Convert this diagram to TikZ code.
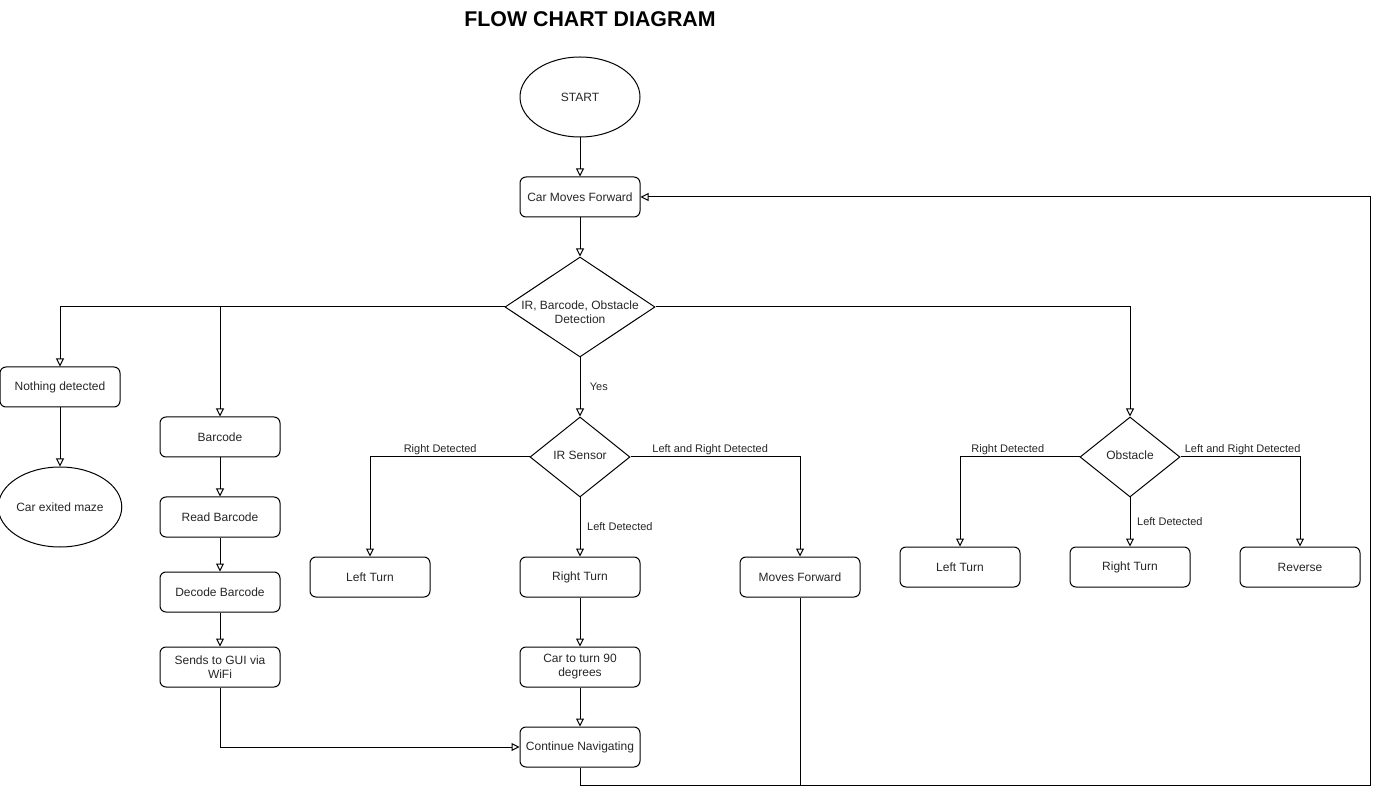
\documentclass[tikz,border=0pt]{standalone}
\usepackage{fontspec}
\setmainfont{Liberation Sans}
\usetikzlibrary{shapes.geometric,arrows.meta}
\begin{document}
\begin{tikzpicture}[x=0.75pt,y=-0.75pt,
  every node/.style={font=\fontsize{9}{10.5}\selectfont, text=black!85},
  box/.style={draw, line width=0.75pt, rounded corners=4.5pt, minimum width=90pt, minimum height=30pt, inner sep=0pt, align=center},
  oval/.style={draw, line width=0.75pt, ellipse, minimum width=90pt, minimum height=60pt, inner sep=0pt, align=center},
  decision/.style={draw, line width=0.75pt, diamond, aspect=1.5, inner sep=0pt, align=center},
  conn/.style={line width=0.75pt, -{Triangle[open,length=6pt,width=6pt]}},
  plain/.style={line width=0.75pt},
  elabel/.style={font=\fontsize{8.25}{10}\selectfont, text=black!85, inner sep=1pt}
]
\useasboundingbox (0,0) rectangle (1382,798);

\node[font=\bfseries\fontsize{16}{19}\selectfont, text=black] (title) at (590,19) {FLOW CHART DIAGRAM};

\node[oval] (start) at (580,97) {START};
\node[box] (cmf) at (580,197) {Car Moves Forward};
\node[decision, minimum width=112.5pt, minimum height=75pt] (det) at (580,307) {};
\node[align=center, inner sep=0pt] (dettext) at (580,312) {IR, Barcode, Obstacle\\Detection};

\node[box] (nothing) at (60,387) {Nothing detected};
\node[oval] (exited) at (60,507) {Car exited maze};

\node[box] (barcode) at (220,437) {Barcode};
\node[box] (read) at (220,517) {Read Barcode};
\node[box] (decode) at (220,592) {Decode Barcode};
\node[box] (sends) at (220,667) {Sends to GUI via\\WiFi};

\node[decision, minimum width=75pt, minimum height=60pt] (ir) at (580,457) {};
\node[inner sep=0pt] (irtext) at (580,455) {IR Sensor};
\node[box] (lt1) at (370,577) {Left Turn};
\node[box] (rt1) at (580,577) {Right Turn};
\node[box] (mf) at (800,577) {Moves Forward};
\node[box] (turn90) at (580,667) {Car to turn 90\\degrees};
\node[box] (cont) at (580,747) {Continue Navigating};

\node[decision, minimum width=75pt, minimum height=60pt] (obs) at (1130,457) {};
\node[inner sep=0pt] (obstext) at (1130,455) {Obstacle};
\node[box] (lt2) at (960,567) {Left Turn};
\node[box] (rt2) at (1130,567) {Right Turn};
\node[box] (rev) at (1300,567) {Reverse};

\coordinate (bl) at (580,785);
\coordinate (br) at (1370,785);
\coordinate (tr) at (1370,197);
\coordinate (mfb) at (800,785);

% main spine
\draw[conn] (start) -- (cmf);
\draw[conn] (cmf) -- (det);
\draw[conn] (det.west) -| (nothing.north);
\draw[conn] (det.west) -| (barcode.north);
\draw[conn] (det.east) -| (obs.north);
\draw[conn] (det.south) -- node[elabel, right, pos=0.5, xshift=6pt] {Yes} (ir.north);

% left
\draw[conn] (nothing) -- (exited);
\draw[conn] (barcode) -- (read);
\draw[conn] (read) -- (decode);
\draw[conn] (decode) -- (sends);
\draw[conn] (sends.south) |- (cont.west);

% IR branch
\draw[conn] (ir.west) -| node[elabel, above, pos=0.28] {Right Detected} (lt1.north);
\draw[conn] (ir.south) -- node[elabel, right, pos=0.5, xshift=4pt] {Left Detected} (rt1.north);
\draw[conn] (ir.east) -| node[elabel, above, pos=0.235] {Left and Right Detected} (mf.north);
\draw[conn] (rt1) -- (turn90);
\draw[conn] (turn90) -- (cont);

% loop back
\draw[conn] (cont.south) -- (bl) -- (br) -- (tr) -- (cmf.east);
\draw[plain] (mf.south) -- (mfb);

% obstacle branch
\draw[conn] (obs.west) -| node[elabel, above, pos=0.3] {Right Detected} (lt2.north);
\draw[conn] (obs.south) -- node[elabel, right, pos=0.5, xshift=4pt] {Left Detected} (rt2.north);
\draw[conn] (obs.east) -| node[elabel, above, pos=0.26] {Left and Right Detected} (rev.north);
\end{tikzpicture}
\end{document}
